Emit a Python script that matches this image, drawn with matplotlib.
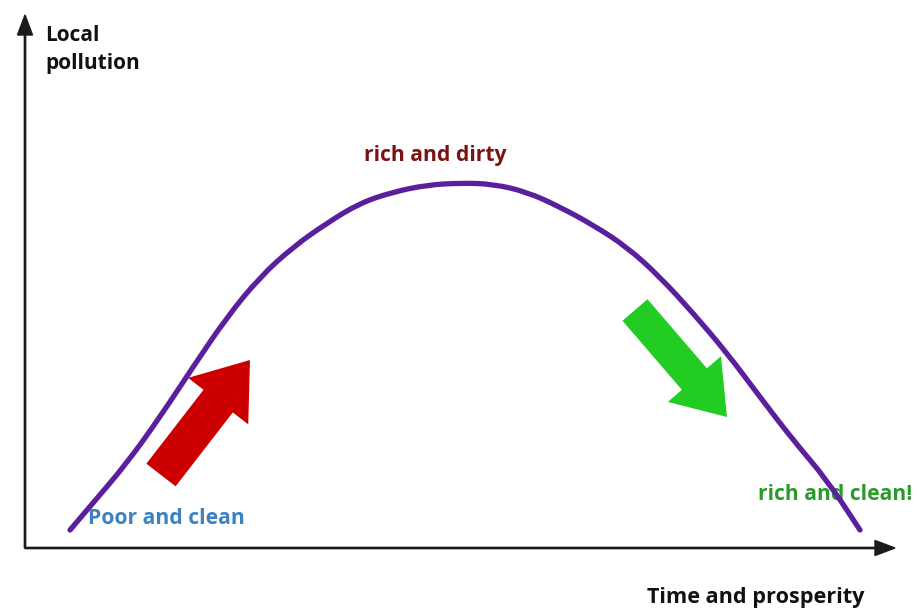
import matplotlib
matplotlib.use("Agg")
import matplotlib.pyplot as plt
from matplotlib.path import Path
from matplotlib.patches import PathPatch

# curve: (prosperity, local pollution), 1 unit ~ 1 px
prosperity = [45, 68, 102, 135, 168, 202, 235, 268, 302, 335, 368, 402, 435,
              468, 502, 535, 568, 602, 635, 668, 702, 735, 768, 802, 835]
pollution = [18, 45, 85, 131, 181, 231, 271, 301, 325, 345, 356, 363, 365,
             364, 356, 341, 323, 301, 271, 235, 195, 151, 108, 68, 18]

# the two direction arrows: tail (x, y) and offset (dx, dy)
up_arrow = (136, 73, 89, 115)
down_arrow = (610, 238, 92, -107)

# axis extents
x_axis_len = 870
y_axis_len = 533

plt.rcParams['font.family'] = ['Open Sans', 'DejaVu Sans']

fig = plt.figure(figsize=(9.17, 6.08), dpi=100)
ax = fig.add_axes([0, 0, 1, 1])
ax.set_xlim(-25, 892)
ax.set_ylim(-60, 548)
ax.axis('off')

# axes with arrow heads
ax.arrow(0, 0, x_axis_len, 0, width=1.3, head_width=15, head_length=20,
         length_includes_head=True, color='#1a1a1a')
ax.arrow(0, 0, 0, y_axis_len, width=1.3, head_width=15, head_length=20,
         length_includes_head=True, color='#1a1a1a')

# the curve, smoothed with quadratic bezier segments through the read points
pts = list(zip(prosperity, pollution))
verts = [pts[0]]
codes = [Path.MOVETO]
mid = ((pts[0][0] + pts[1][0]) / 2, (pts[0][1] + pts[1][1]) / 2)
verts.append(mid)
codes.append(Path.LINETO)
for i in range(1, len(pts) - 1):
    nxt = ((pts[i][0] + pts[i + 1][0]) / 2, (pts[i][1] + pts[i + 1][1]) / 2)
    verts += [pts[i], nxt]
    codes += [Path.CURVE3, Path.CURVE3]
verts.append(pts[-1])
codes.append(Path.LINETO)
ax.add_patch(PathPatch(Path(verts, codes), facecolor='none', edgecolor='#5b1f9e',
                       lw=3.8, capstyle='round', joinstyle='round', zorder=3))

# red and green arrows
x, y, dx, dy = up_arrow
ax.arrow(x, y, dx, dy, width=37, head_width=76, head_length=52,
         length_includes_head=True, color='#cc0000', lw=0, zorder=2)
x, y, dx, dy = down_arrow
ax.arrow(x, y, dx, dy, width=33, head_width=70, head_length=50,
         length_includes_head=True, color='#22cc22', lw=0, zorder=2)

# labels
ax.text(20, 523, 'Local\npollution', fontsize=15, fontweight='bold',
        color='#111111', va='top', ha='left', linespacing=1.45)
ax.text(622, -55, 'Time and prosperity', fontsize=15.6, fontweight='bold',
        color='#111111', va='baseline', ha='left')
ax.text(435 - 25, 393, 'rich and dirty', fontsize=15.2, fontweight='bold',
        color='#7a1414', va='center', ha='center')
ax.text(63, 29, 'Poor and clean', fontsize=15.2, fontweight='bold',
        color='#3b82c0', va='center', ha='left', zorder=4)
ax.text(733, 53, 'rich and clean!', fontsize=15.1, fontweight='bold',
        color='#2a9a2a', va='center', ha='left', zorder=2)

fig.savefig('out.png', dpi=100)
